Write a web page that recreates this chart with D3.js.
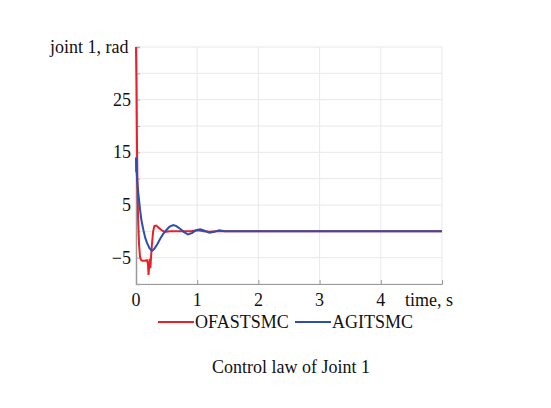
<!DOCTYPE html>
<html><head><meta charset="utf-8">
<script src="https://cdn.jsdelivr.net/npm/d3@7"></script>
<style>body{margin:0;background:#fff}svg text{font-family:"Liberation Serif","Times New Roman",serif;fill:#111}</style>
</head><body><svg id="c" width="551" height="408"></svg>
<script>
const xTicks = [0,1,2,3,4];
const yTickLabels = [25,15,5,-5];
const yGrid = [-10,-5,0,5,10,15,20,25,30,35];
const seriesNames = ["OFASTSMC","AGITSMC"];
const redT = [0,0.008,0.015,0.025,0.035,0.05,0.065,0.08,0.1,0.14,0.18,0.195,0.205,0.215,0.225,0.235,0.245,0.26,0.28,0.3,0.33,0.37,0.42,0.47,0.55,0.9,0.95,1.02,1.1,1.2,1.3,5];
const redV = [35,28,18,8,2,-2.5,-4.8,-5.4,-5.6,-5.6,-5.5,-6.2,-8.3,-6.5,-5.2,-7,-5,-2.5,0,1,1.1,0.7,0.2,-0.1,0,0,0.1,0.2,0,-0.1,0,0];
const blueT = [0,0.003,0.006,0.01,0.02,0.04,0.065,0.09,0.12,0.15,0.18,0.22,0.26,0.3,0.35,0.4,0.45,0.5,0.55,0.61,0.66,0.72,0.78,0.85,0.92,0.98,1.05,1.12,1.2,1.28,1.36,1.45,1.6,5];
const blueV = [14,11.2,13.5,11.5,9.5,7,4.2,2,0.3,-1.2,-2.2,-3.2,-3.7,-3.3,-2.4,-1.3,-0.4,0.3,0.9,1.2,1.0,0.5,-0.1,-0.6,-0.3,0.2,0.4,0.1,-0.25,-0.1,0.2,0,0,0];

const svg = d3.select("#c");
const L=136,R=442,T=47,B=284;
const FS=18;
const x = d3.scaleLinear().domain([0,5]).range([L,R]);
const y = d3.scaleLinear().domain([-10,35]).range([B,T]);

// grid
svg.append("g").selectAll("line").data(yGrid).join("line")
  .attr("x1",L).attr("x2",R).attr("y1",d=>y(d)).attr("y2",d=>y(d))
  .attr("stroke","#e8e8e8").attr("stroke-width",1);
svg.append("g").selectAll("line").data([1,2,3,4,5]).join("line")
  .attr("x1",d=>x(d)).attr("x2",d=>x(d)).attr("y1",T).attr("y2",B)
  .attr("stroke","#e8e8e8").attr("stroke-width",1);

// axes
const xa = svg.append("g").attr("transform",`translate(0,${B})`)
  .call(d3.axisBottom(x).tickValues([0,1,2,3,4,5]).tickSize(-4).tickFormat(""));
xa.select(".domain").attr("stroke","#999");
xa.selectAll(".tick line").attr("stroke","#999");
const ya = svg.append("g").attr("transform",`translate(${L},0)`)
  .call(d3.axisLeft(y).tickValues(yGrid).tickSize(-4).tickFormat(""));
ya.select(".domain").attr("stroke","#999").attr("stroke-width",1.5);
ya.selectAll(".tick line").attr("stroke","#aaa");

// tick labels
svg.append("g").selectAll("text").data(xTicks).join("text")
  .attr("x",d=>x(d)).attr("y",306).attr("text-anchor","middle")
  .attr("font-size",FS).text(d=>d);
svg.append("g").selectAll("text").data(yTickLabels).join("text")
  .attr("x",131).attr("y",d=>y(d)+6).attr("text-anchor","end")
  .attr("font-size",FS).text(d=>d<0?"\u2212"+Math.abs(d):d);
svg.append("text").attr("x",50).attr("y",53).attr("font-size",FS).text("joint 1, rad");
svg.append("text").attr("x",405).attr("y",306).attr("font-size",FS).text("time, s");

// lines
const line = d3.line().x(d=>x(d[0])).y(d=>y(d[1]));
svg.append("path").datum(redT.map((t,i)=>[t,redV[i]])).attr("d",line)
  .attr("fill","none").attr("stroke","#e8202a").attr("stroke-width",2);
svg.append("path").datum(blueT.map((t,i)=>[t,blueV[i]])).attr("d",line)
  .attr("fill","none").attr("stroke","#2a4fb0").attr("stroke-width",2);

// legend
const lg = [{c:"#e8202a",x1:158,x2:194,tx:195},{c:"#2a4fb0",x1:295,x2:331,tx:332}];
lg.forEach((d,i)=>{
  svg.append("line").attr("x1",d.x1).attr("x2",d.x2).attr("y1",322).attr("y2",322)
    .attr("stroke",d.c).attr("stroke-width",2);
  svg.append("text").attr("x",d.tx).attr("y",328).attr("font-size",FS).text(seriesNames[i]);
});

svg.append("text").attr("x",291).attr("y",373).attr("text-anchor","middle")
  .attr("font-size",FS).text("Control law of Joint 1");
</script></body></html>
